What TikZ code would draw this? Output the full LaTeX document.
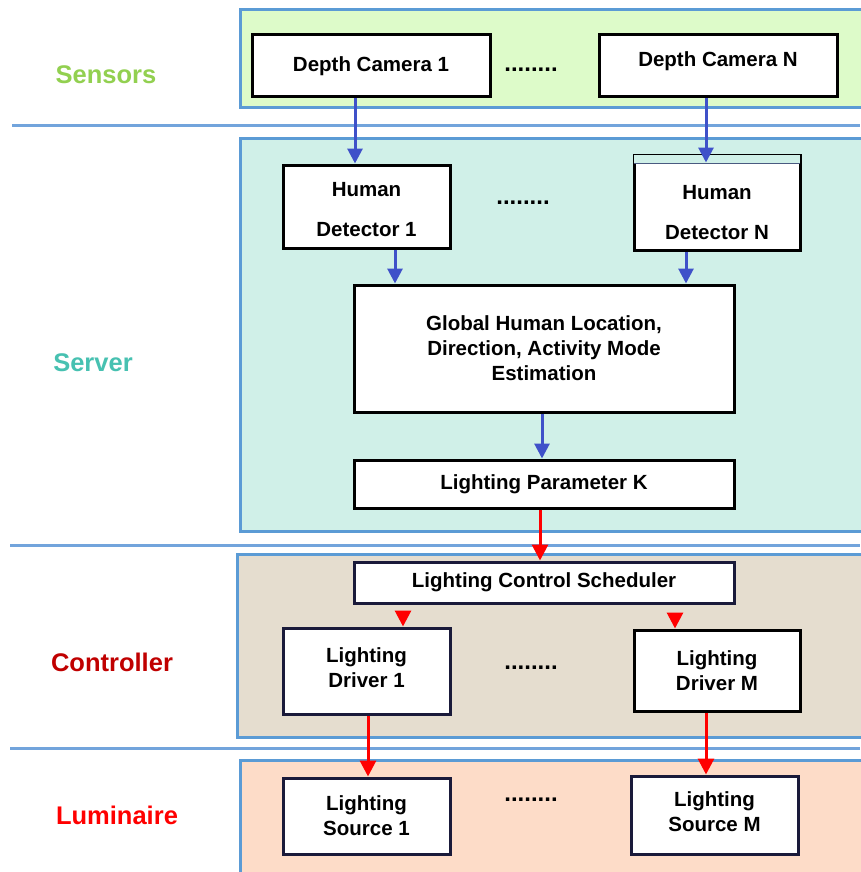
\documentclass[tikz,border=0pt]{standalone}
\usepackage{fontspec}
\setmainfont{Liberation Sans}
\usetikzlibrary{arrows.meta}
\definecolor{panelborder}{HTML}{5B9BD5}
\definecolor{sepline}{HTML}{72A4DC}
\definecolor{sensfill}{HTML}{DDFBC9}
\definecolor{servfill}{HTML}{D0F0E8}
\definecolor{ctrlfill}{HTML}{E5DDCF}
\definecolor{lumfill}{HTML}{FDDCC8}
\definecolor{arrblue}{HTML}{3F51C9}
\definecolor{arrred}{HTML}{FF0000}
\definecolor{sensgreen}{HTML}{92D050}
\definecolor{servteal}{HTML}{47C1B1}
\definecolor{ctrlred}{HTML}{C00000}
\definecolor{navy}{HTML}{1A1A3A}
\definecolor{stripline}{HTML}{4A5A80}
\begin{document}
\begin{tikzpicture}[x=1pt,y=-1pt,
  boxtext/.style={inner sep=0pt, align=center, font=\fontsize{20.5}{25}\selectfont\bfseries},
  box/.style={boxtext, draw=black, line width=3pt, fill=white},
  navybox/.style={box, draw=navy},
  panel/.style={draw=panelborder, line width=3pt},
  sepstyle/.style={draw=sepline, line width=3pt},
  lab/.style={font=\fontsize{25.5}{30}\selectfont\bfseries, inner sep=0pt},
  dotstyle/.style={font=\fontsize{24}{28}\selectfont\bfseries, inner sep=0pt, anchor=base},
  barrow/.style={draw=arrblue, line width=3pt, -{Triangle[width=15pt,length=15pt]}},
  rarrow/.style={draw=arrred, line width=3pt, -{Triangle[width=16pt,length=16pt]}}
]
\useasboundingbox (0,0) rectangle (860,872);
\fill[white] (0,0) rectangle (860,872);

% panels
\filldraw[panel, fill=sensfill] (240,10) rectangle (875,108);
\filldraw[panel, fill=servfill] (240,138) rectangle (875,531);
\filldraw[panel, fill=ctrlfill] (237,554) rectangle (875,737);
\filldraw[panel, fill=lumfill] (240,760) rectangle (875,885);

% separators
\draw[sepstyle] (12,126) -- (860,126);
\draw[sepstyle] (10,545) -- (860,545);
\draw[sepstyle] (10,748) -- (860,748);

% layer labels
\node[lab, text=sensgreen] (lsens) at (106,75) {Sensors};
\node[lab, text=servteal] (lserv) at (93,363) {Server};
\node[lab, text=ctrlred] (lctrl) at (112,662) {Controller};
\node[lab, text=arrred] (llum) at (117,815) {Luminaire};

% sensors
\node[box, minimum width=238pt, minimum height=62pt] (DC1) at (371,66) {Depth Camera 1};
\node[box, minimum width=238pt, minimum height=62pt] (DCN) at (718,66) {};
\node[boxtext] (DCNt) at ([yshift=5pt]DCN.center) {Depth Camera N};
\node[dotstyle] (d1) at (531,71.5) {........};

% server
\node[box, minimum width=167pt, minimum height=83pt] (HD1) at (366.5,206.5) {};
\node[boxtext] (HD1t) at ([yshift=-3.5pt]HD1.center) {Human\\[15pt]Detector 1};
\node[box, minimum width=166pt, minimum height=95pt] (HDN) at (717,202.5) {};
\fill[servfill] ([xshift=1.5pt,yshift=-1.5pt]HDN.north west) rectangle ([xshift=-1.5pt,yshift=-9.5pt]HDN.north east);
\draw[line width=1.5pt, stripline] ([xshift=1.5pt,yshift=-10pt]HDN.north west) -- ([xshift=-1.5pt,yshift=-10pt]HDN.north east);
\node[boxtext] (HDNt) at ([yshift=-10.5pt]HDN.center) {Human\\[15pt]Detector N};
\node[dotstyle] (d2) at (523,204.5) {........};
\node[box, minimum width=380pt, minimum height=127pt] (GL) at (544,348.5)
  {Global Human Location,\\Direction, Activity Mode\\Estimation};
\node[box, minimum width=380pt, minimum height=48pt] (LPK) at (544,484) {Lighting Parameter K};

% controller
\node[navybox, minimum width=380pt, minimum height=41pt] (LCS) at (544,582.5) {Lighting Control Scheduler};
\node[navybox, minimum width=167pt, minimum height=86pt] (LD1) at (366.5,671) {};
\node[boxtext] (LD1t) at ([yshift=3pt]LD1.center) {Lighting\\Driver 1};
\node[box, minimum width=166pt, minimum height=81pt] (LDM) at (717,670.5) {Lighting\\Driver M};
\node[dotstyle] (d3) at (531,669.5) {........};

% luminaire
\node[navybox, minimum width=167pt, minimum height=76pt] (LS1) at (366.5,816) {Lighting\\Source 1};
\node[navybox, minimum width=167pt, minimum height=78pt] (LSM) at (714.5,815) {};
\node[boxtext] (LSMt) at ([yshift=3pt]LSM.center) {Lighting\\Source M};
\node[dotstyle] (d4) at (531,801.5) {........};

% connectors
\draw[barrow] (DC1.south -| 355,0) -- (HD1.north -| 355,0);
\draw[barrow, shorten >=-9pt] (DCN.south -| 706,0) -- (HDN.north -| 706,0);
\draw[barrow] (HD1.south -| 395,0) -- (GL.north -| 395,0);
\draw[barrow] (HDN.south -| 686,0) -- (GL.north -| 686,0);
\draw[barrow] (GL.south -| 542,0) -- (LPK.north -| 542,0);
\draw[rarrow] (LPK.south -| 540,0) -- (LCS.north -| 540,0);
\draw[rarrow, shorten <=7pt] (LCS.south -| 403,0) -- (LD1.north -| 403,0);
\draw[rarrow, shorten <=9pt] (LCS.south -| 675,0) -- (LDM.north -| 675,0);
\draw[rarrow] (LD1.south -| 368,0) -- (LS1.north -| 368,0);
\draw[rarrow] (LDM.south -| 706,0) -- (LSM.north -| 706,0);
\end{tikzpicture}
\end{document}
